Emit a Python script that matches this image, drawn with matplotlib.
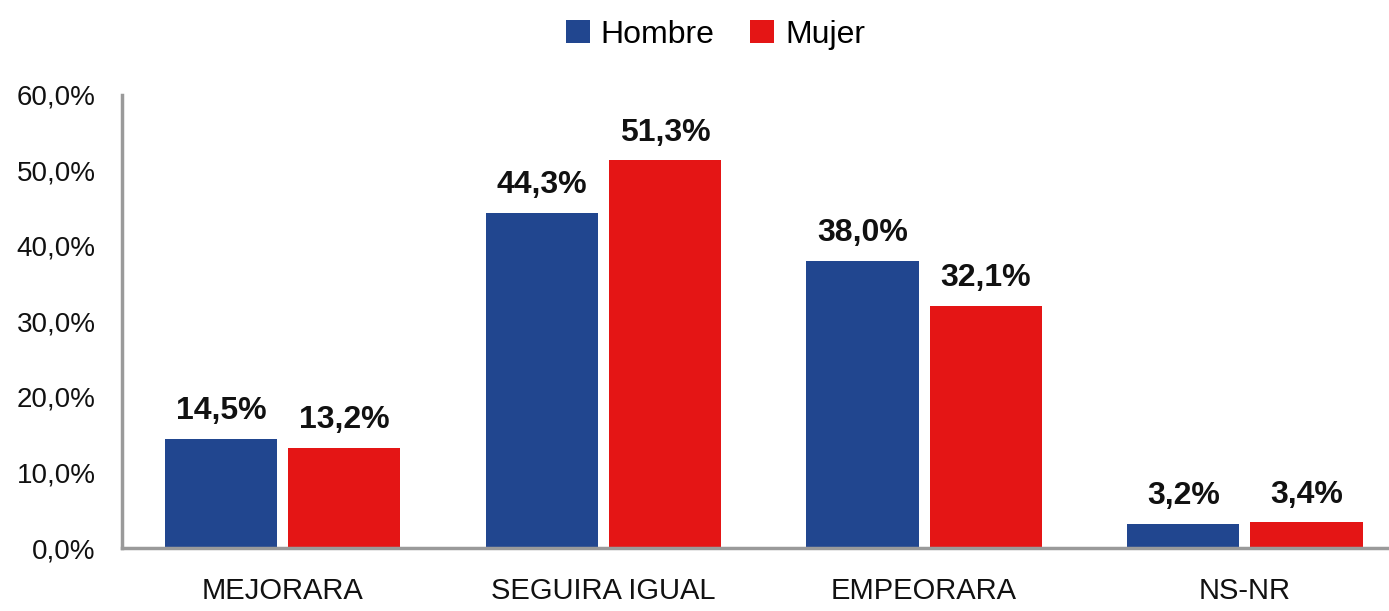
import matplotlib
matplotlib.use("Agg")
from matplotlib import pyplot as plt
import numpy as np

categorias = ['MEJORARA', 'SEGUIRA IGUAL', 'EMPEORARA', 'NS-NR']
hombre = [14.5, 44.3, 38.0, 3.2]
mujer = [13.2, 51.3, 32.1, 3.4]
series = ['Hombre', 'Mujer']

azul = '#21468F'
rojo = '#E41515'

plt.rcParams['font.family'] = ['Liberation Sans', 'DejaVu Sans']

fig = plt.figure(figsize=(13.89, 6.11), dpi=100)
# el eje llega hasta el borde derecho (se corta como en el original)
ax = fig.add_axes([0.088, 0.103, 0.9237, 0.742])

x = np.arange(len(categorias))
w = 0.35
off = 0.192
b1 = ax.bar(x - off, hombre, w, color=azul, label=series[0])
b2 = ax.bar(x + off, mujer, w, color=rojo, label=series[1])

def etiqueta(v):
    return '{:.1f}%'.format(v).replace('.', ',')

for barras, vals in ((b1, hombre), (b2, mujer)):
    for b, v in zip(barras, vals):
        ax.text(b.get_x() + b.get_width() / 2, v + 1.7, etiqueta(v),
                ha='center', va='bottom', fontsize=23, fontweight='bold', color='#111111')

ax.set_xlim(-0.5, 3.5)
ax.set_ylim(0, 60)
ax.set_yticks(range(0, 61, 10))
ax.set_yticklabels(['{:.1f}%'.format(t).replace('.', ',') for t in range(0, 61, 10)],
                   fontsize=20, color='#111111')
ax.set_xticks(x)
ax.set_xticklabels(categorias, fontsize=21, color='#111111')
ax.tick_params(axis='y', length=0, pad=19)
ax.tick_params(axis='x', length=0, pad=21)

for s in ['top', 'right']:
    ax.spines[s].set_visible(False)
for s in ['left', 'bottom']:
    ax.spines[s].set_color('#9a9a9a')
    ax.spines[s].set_linewidth(2.5)

fig.legend(handles=[b1, b2], labels=series, loc='upper center', ncol=2,
           bbox_to_anchor=(0.515, 1.015), frameon=False, fontsize=23,
           handlelength=0.75, handleheight=0.75, handletextpad=0.35, columnspacing=1.1)

fig.savefig('out.png', dpi=100)
